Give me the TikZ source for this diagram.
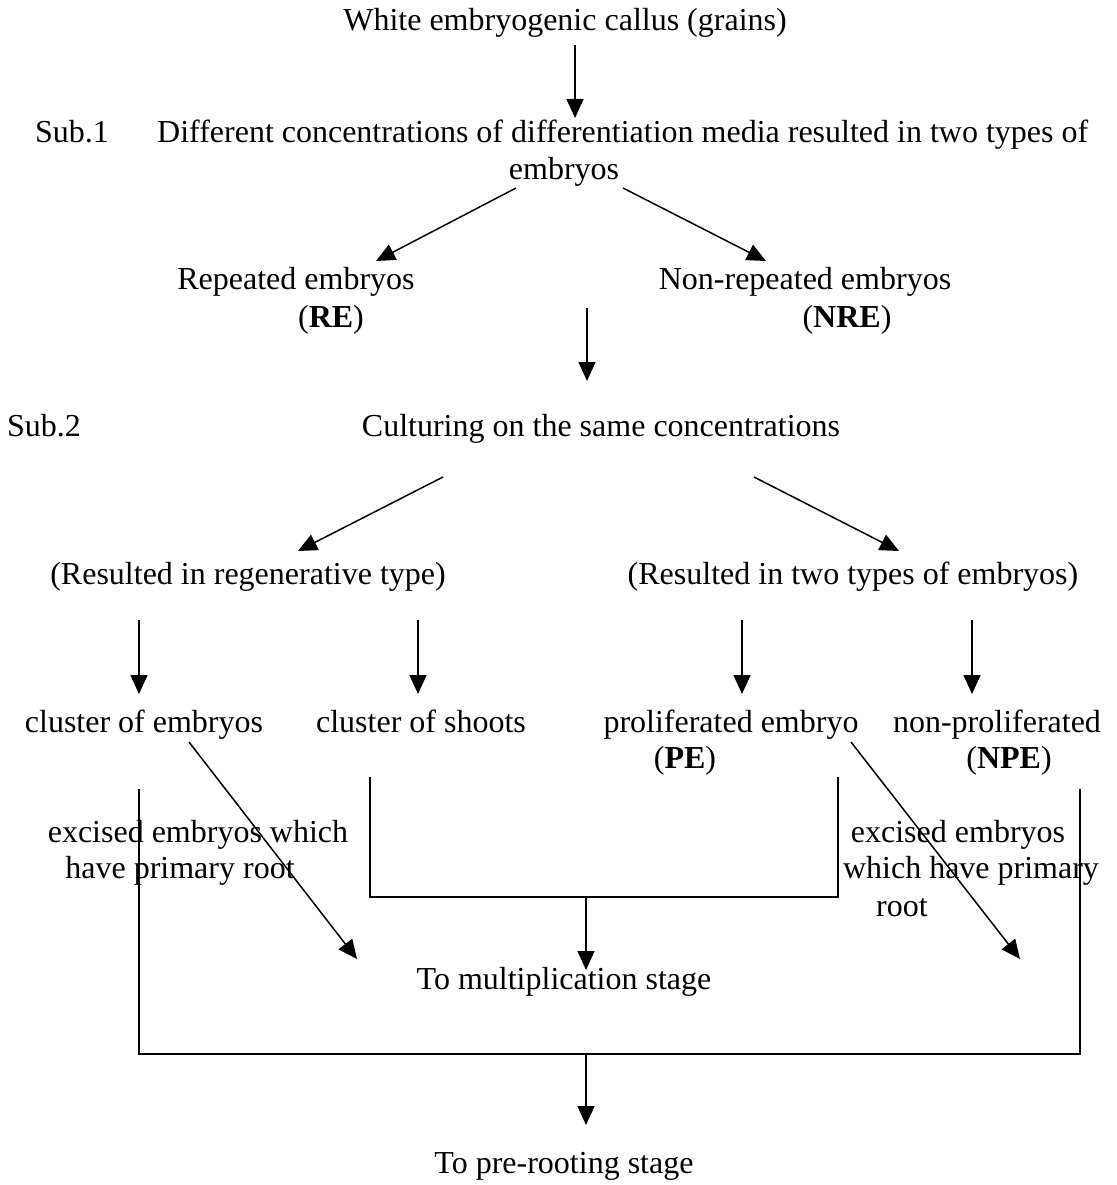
\documentclass[tikz,border=0pt]{standalone}
\usepackage{fontspec}
\setmainfont{Liberation Serif}
\usetikzlibrary{arrows.meta}
\begin{document}
\begin{tikzpicture}[x=1pt,y=-1pt,
  lbl/.style={font=\fontsize{32}{37}\selectfont, inner sep=0pt, anchor=base},
  arr/.style={line width=1.5pt, -{Triangle[length=19pt,width=17pt]}},
  ln/.style={line width=1.5pt}]
\useasboundingbox[fill=white] (0,0) rectangle (1116,1185);
% texts
\node[lbl] (title) at (565,31) {White embryogenic callus (grains)};
\node[lbl] (sub1) at (72,143) {Sub.1};
\node[lbl,anchor=base west] (diff) at (157,143) {Different concentrations of differentiation media resulted in two types of};
\node[lbl] (emb) at (564,179) {embryos};
\node[lbl] (re) at (296,289) {Repeated embryos};
\node[lbl] (rea) at (331,327) {(\textbf{RE})};
\node[lbl] (nre) at (805,289) {Non-repeated embryos};
\node[lbl] (nrea) at (847,327) {(\textbf{NRE})};
\node[lbl] (sub2) at (44,436) {Sub.2};
\node[lbl] (cult) at (601,436) {Culturing on the same concentrations};
\node[lbl] (regen) at (248,584) {(Resulted in regenerative type)};
\node[lbl] (two) at (853,584) {(Resulted in two types of embryos)};
\node[lbl] (ce) at (144,732) {cluster of embryos};
\node[lbl] (cs) at (421,732) {cluster of shoots};
\node[lbl] (pe) at (731,732) {proliferated embryo};
\node[lbl] (pea) at (685,768) {(\textbf{PE})};
\node[lbl] (npe) at (997,732) {non-proliferated};
\node[lbl] (npea) at (1009,768) {(\textbf{NPE})};
\node[lbl] (exl1) at (198,842) {excised embryos which};
\node[lbl] (exl2) at (180,878) {have primary root};
\node[lbl] (exr1) at (958,842) {excised embryos};
\node[lbl] (exr2) at (971,878) {which have primary};
\node[lbl] (exr3) at (902,916) {root};
\node[lbl] (mult) at (564,989) {To multiplication stage};
\node[lbl] (prer) at (564,1173) {To pre-rooting stage};
% connector end points
\coordinate (a1s) at (575,45);  \coordinate (a1e) at (575,118);
\coordinate (a2s) at (516,188); \coordinate (a2e) at (376,261);
\coordinate (a3s) at (623,188); \coordinate (a3e) at (766,261);
\coordinate (a4s) at (587,308); \coordinate (a4e) at (587,381);
\coordinate (a5s) at (443,477); \coordinate (a5e) at (298,551);
\coordinate (a6s) at (754,477); \coordinate (a6e) at (899,551);
\coordinate (d1s) at (139,620); \coordinate (d1e) at (139,694);
\coordinate (d2s) at (418,620); \coordinate (d2e) at (418,694);
\coordinate (d3s) at (742,620); \coordinate (d3e) at (742,694);
\coordinate (d4s) at (972,620); \coordinate (d4e) at (972,694);
\coordinate (g1s) at (189,742); \coordinate (g1e) at (357,959);
\coordinate (g2s) at (851,742); \coordinate (g2e) at (1020,959);
\coordinate (ib1) at (370,777); \coordinate (ib2) at (370,897);
\coordinate (ib3) at (838,897); \coordinate (ib4) at (838,777);
\coordinate (ibm) at (586,897); \coordinate (ibe) at (586,970);
\coordinate (ob1) at (139,789); \coordinate (ob2) at (139,1054);
\coordinate (ob3) at (1080,1054); \coordinate (ob4) at (1080,789);
\coordinate (obm) at (586,1054); \coordinate (obe) at (586,1125);
% connectors
\draw[arr] (a1s) -- (a1e);
\draw[arr] (a2s) -- (a2e);
\draw[arr] (a3s) -- (a3e);
\draw[arr] (a4s) -- (a4e);
\draw[arr] (a5s) -- (a5e);
\draw[arr] (a6s) -- (a6e);
\draw[arr] (d1s) -- (d1e);
\draw[arr] (d2s) -- (d2e);
\draw[arr] (d3s) -- (d3e);
\draw[arr] (d4s) -- (d4e);
\draw[arr] (g1s) -- (g1e);
\draw[arr] (g2s) -- (g2e);
\draw[ln] (ib1) -- (ib2) -- (ib3) -- (ib4);
\draw[arr] (ibm) -- (ibe);
\draw[ln] (ob1) -- (ob2) -- (ob3) -- (ob4);
\draw[arr] (obm) -- (obe);
\end{tikzpicture}
\end{document}
